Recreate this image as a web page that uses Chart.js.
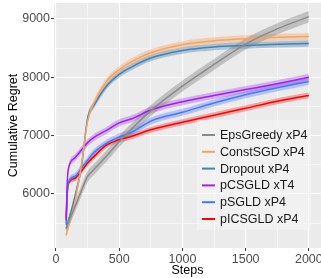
<!DOCTYPE html>
<html>
<head>
<meta charset="utf-8">
<script src="https://cdn.jsdelivr.net/npm/chart.js@4/dist/chart.umd.min.js"></script>
<style>
  html, body { margin: 0; padding: 0; background: #fff; }
  canvas { display: block; }
</style>
</head>
<body>
<canvas id="grafico" width="321" height="278"></canvas>
<script>
const steps = [80, 90, 100, 150, 200, 250, 300, 400, 500, 600, 750, 1000, 1250, 1500, 1750, 2000];
const epsGreedy = [5400, 5460, 5520, 5780, 6050, 6300, 6420, 6650, 6900, 7120, 7430, 7850, 8220, 8570, 8830, 9040];
const constSGD = [5290, 5380, 5460, 5870, 6480, 7250, 7560, 7930, 8130, 8270, 8420, 8560, 8625, 8660, 8685, 8700];
const dropout = [5420, 5480, 5550, 5960, 6450, 7300, 7520, 7850, 8050, 8180, 8330, 8460, 8520, 8545, 8565, 8580];
const pCSGLD = [5550, 6250, 6450, 6620, 6750, 6880, 6970, 7090, 7220, 7290, 7440, 7580, 7690, 7790, 7890, 8000];
const pSGLD = [5470, 6050, 6210, 6300, 6440, 6580, 6710, 6870, 6980, 7060, 7250, 7400, 7560, 7700, 7820, 7930];
const pICSGLD = [5590, 6050, 6190, 6270, 6390, 6530, 6640, 6840, 6930, 6990, 7100, 7230, 7350, 7470, 7590, 7690];

const nomes = ["EpsGreedy xP4", "ConstSGD xP4", "Dropout xP4", "pCSGLD xT4", "pSGLD xP4", "pICSGLD xP4"];
const series = [epsGreedy, constSGD, dropout, pCSGLD, pSGLD, pICSGLD];
const faixa = [95, 60, 55, 60, 60, 50]; // half width of the ribbon
const cores = ["#8a8a8a", "#f4a460", "#4682b4", "#a020f0", "#4876ff", "#ff0000"];
const coresFaixa = ["rgba(128,128,128,0.4)", "rgba(244,164,96,0.4)", "rgba(70,130,180,0.4)",
  "rgba(160,32,240,0.3)", "rgba(72,118,255,0.35)", "rgba(255,0,0,0.3)"];

const xTicks = [0, 250, 500, 750, 1000, 1250, 1500, 1750, 2000];
const yTicks = [5500, 6000, 6500, 7000, 7500, 8000, 8500, 9000];

const fonte = "'Liberation Sans', Arial, sans-serif";

const linhas = series.map((s, i) => ({
  label: nomes[i],
  data: s.map((v, j) => ({ x: steps[j], y: v })),
  borderColor: cores[i],
  borderWidth: 1.5,
  pointRadius: 0,
  fill: false,
  cubicInterpolationMode: "monotone"
}));

const faixas = [];
series.forEach((s, i) => {
  faixas.push({
    label: "_lo" + i,
    data: s.map((v, j) => ({ x: steps[j], y: v - faixa[i] })),
    borderWidth: 0,
    pointRadius: 0,
    fill: false,
    cubicInterpolationMode: "monotone"
  });
  faixas.push({
    label: "_hi" + i,
    data: s.map((v, j) => ({ x: steps[j], y: v + faixa[i] })),
    borderWidth: 0,
    pointRadius: 0,
    backgroundColor: coresFaixa[i],
    fill: "-1",
    cubicInterpolationMode: "monotone"
  });
});

const fundoPainel = {
  id: "fundoPainel",
  beforeDraw(chart) {
    const a = chart.chartArea, ctx = chart.ctx;
    ctx.save();
    ctx.fillStyle = "#ebebeb";
    ctx.fillRect(a.left, a.top, a.right - a.left, a.bottom - a.top);
    ctx.restore();
  }
};

// legenda desenhada dentro do painel
const legenda = {
  id: "legenda",
  afterDraw(chart) {
    const ctx = chart.ctx;
    ctx.save();
    ctx.fillStyle = "rgba(245,245,245,0.65)";
    ctx.fillRect(197, 120, 114, 110);
    ctx.font = "12.5px " + fonte;
    ctx.textBaseline = "middle";
    nomes.forEach((n, i) => {
      const y = 135 + i * 16.8;
      ctx.strokeStyle = cores[i];
      ctx.lineWidth = 2;
      ctx.beginPath();
      ctx.moveTo(202, y);
      ctx.lineTo(215, y);
      ctx.stroke();
      ctx.fillStyle = "#1a1a1a";
      ctx.fillText(n, 220, y + 0.5);
    });
    ctx.restore();
  }
};

new Chart(document.getElementById("grafico"), {
  type: "line",
  data: { datasets: linhas.concat(faixas) },
  options: {
    responsive: false,
    animation: false,
    layout: { padding: { top: 3, right: 0, bottom: 0, left: 0 } },
    plugins: { legend: { display: false }, tooltip: { enabled: false } },
    scales: {
      x: {
        type: "linear",
        min: -16,
        max: 2096,
        afterBuildTicks(s) { s.ticks = xTicks.map(v => ({ value: v })); },
        afterFit(s) { s.paddingLeft = 0; s.paddingRight = 0; s.height = 30; },
        ticks: {
          autoSkip: false,
          maxRotation: 0,
          padding: 1,
          color: "#4d4d4d",
          font: { family: fonte, size: 12.5 },
          callback: v => (v % 500 === 0 ? v : "")
        },
        grid: {
          color: "#ffffff",
          lineWidth: c => (c.tick && c.tick.value % 500 === 0 ? 1.1 : 0.5),
          tickColor: c => (c.tick && c.tick.value % 500 === 0 ? "#333333" : "rgba(0,0,0,0)"),
          tickLength: 3,
          tickWidth: 1
        },
        border: { display: false },
        title: {
          display: true,
          text: "Steps",
          color: "#000",
          font: { family: fonte, size: 12.5 },
          padding: { top: 0, bottom: 0 }
        }
      },
      y: {
        type: "linear",
        min: 5074,
        max: 9274,
        afterBuildTicks(s) { s.ticks = yTicks.map(v => ({ value: v })); },
        afterFit(s) { s.width = 54; s.paddingTop = 0; s.paddingBottom = 0; },
        ticks: {
          autoSkip: false,
          padding: 1,
          color: "#4d4d4d",
          font: { family: fonte, size: 12.5 },
          callback: v => (v % 1000 === 0 ? v : "")
        },
        grid: {
          color: "#ffffff",
          lineWidth: c => (c.tick && c.tick.value % 1000 === 0 ? 1.1 : 0.5),
          tickColor: c => (c.tick && c.tick.value % 1000 === 0 ? "#333333" : "rgba(0,0,0,0)"),
          tickLength: 3,
          tickWidth: 1
        },
        border: { display: false },
        title: {
          display: true,
          text: "Cumulative Regret",
          color: "#000",
          font: { family: fonte, size: 12.5 },
          padding: { top: 6, bottom: 0 }
        }
      }
    }
  },
  plugins: [fundoPainel, legenda]
});
</script>
</body>
</html>
